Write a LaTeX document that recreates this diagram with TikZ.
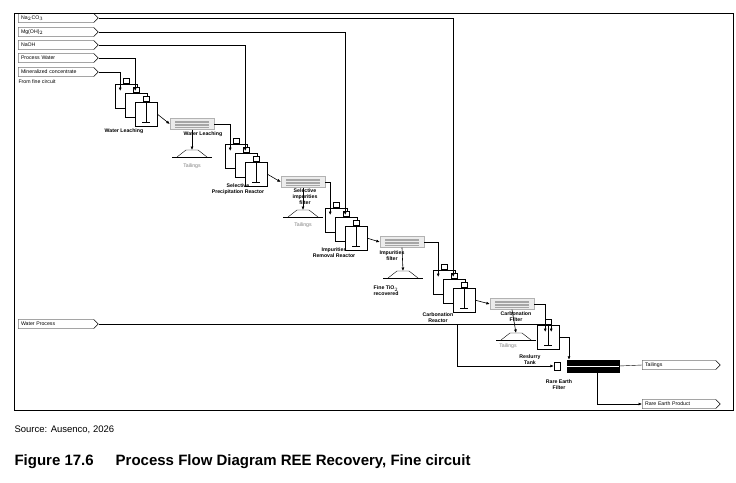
\documentclass[tikz,border=0pt]{standalone}
\usepackage{fontspec}
\setmainfont{Liberation Sans}
\usetikzlibrary{shapes.symbols,arrows.meta}

% three agitated tanks, stepped down to the right
\newcommand{\tanktrain}[3]{%
  \foreach \i/\n in {0/a,1/b,2/c}{
    \node[tank] (#3\n) at ({#1+10*\i},{#2+9*\i}) {};
    \draw[fill=white] ([xshift=-3pt,yshift=1pt]#3\n.north) rectangle ([xshift=3pt,yshift=6pt]#3\n.north);
  }
  \draw ([yshift=1pt]#3c.north) -- ([yshift=4pt]#3c.south);
  \draw[line width=1pt] ([xshift=-4pt,yshift=4pt]#3c.south) -- ([xshift=4pt,yshift=4pt]#3c.south);
}
\newcommand{\pile}[2]{%
  \draw (#1-20,#2+4) -- (#1+20,#2+4);
  \draw (#1-15,#2+4) -- (#1-6,#2-3) -- (#1+6,#2-3) -- (#1+15,#2+4);
}

\begin{document}
\begin{tikzpicture}[x=1pt,y=-1pt,
    every node/.style={font=\fontsize{5.2}{6}\selectfont,align=center},
    tag/.style={signal,signal to=east,draw,minimum width=80pt,minimum height=9pt,inner sep=1pt,text width=70pt,align=left},
    outtag/.style={tag,minimum width=78pt,text width=68pt},
    tank/.style={draw,fill=white,minimum width=22pt,minimum height=24pt,inner sep=0pt,anchor=north west},
    filt/.style={draw=gray!60,fill=gray!15,minimum width=44pt,minimum height=11pt,inner sep=0pt,
      path picture={\foreach \k in {-3,-1.5,...,3}{\draw[gray!70,line width=0.3pt]
        ([xshift=5pt,yshift=\k pt]path picture bounding box.west) -- ([xshift=-5pt,yshift=\k pt]path picture bounding box.east);}}},
    lbl/.style={font=\bfseries\fontsize{5.2}{6}\selectfont},
    flow/.style={-{Latex[length=3.5pt,width=3pt]},line width=0.6pt}]
  \useasboundingbox (0,0) rectangle (736,482);
  \draw[line width=1pt] (14,13) rectangle (733,410);

  % feed tags
  \node[tag] (soda) at (56,18) {Na$_2$CO$_3$};
  \node[tag] (mgoh) at (56,32) {Mg(OH)$_2$};
  \node[tag] (naoh) at (56,45) {NaOH};
  \node[tag] (pw)   at (56,58) {Process Water};
  \node[tag] (conc) at (56,72) {Mineralized concentrate};
  \node[anchor=west] at (15,82) {From fine circuit};
  \node[tag] (wp)   at (56,324) {Water Process};
  \coordinate (split) at (457,324);

  % reactor trains
  \tanktrain{115}{84}{wl}
  \tanktrain{225}{144}{sp}
  \tanktrain{325}{208}{ir}
  \tanktrain{433}{270}{cr}
  \node[tank] (rs) at (537,325) {};
  \draw[fill=white] ([xshift=-3pt,yshift=1pt]rs.north) rectangle ([xshift=3pt,yshift=6pt]rs.north);
  \draw ([yshift=1pt]rs.north) -- ([yshift=4pt]rs.south);
  \draw[line width=1pt] ([xshift=-4pt,yshift=4pt]rs.south) -- ([xshift=4pt,yshift=4pt]rs.south);

  % filters
  \node[filt] (f1) at (192,124) {};
  \node[filt] (f2) at (303,182) {};
  \node[filt] (f3) at (402,242) {};
  \node[filt] (f4) at (512,304) {};
  \node[draw,fill=black,minimum width=52pt,minimum height=12pt,inner sep=0pt] (ref) at (593,366) {};
  \draw[white,line width=0.6pt] (ref.west) -- (ref.east);
  \node[draw,fill=white,minimum width=6pt,minimum height=8pt,inner sep=0pt] (pump) at (557,366) {};

  % tailings piles
  \pile{192}{153}
  \pile{303}{213}
  \pile{403}{274}
  \pile{516}{336}
  \node[text=gray] (t1) at (192,166) {Tailings};
  \node[text=gray] (t2) at (303,225) {Tailings};
  \node[lbl] (t3) at (386,291) {Fine TiO$_2$\\recovered};
  \node[text=gray] (t4) at (508,346) {Tailings};

  % labels
  \node[lbl] at (124,131) {Water Leaching};
  \node[lbl] at (203,134) {Water Leaching};
  \node[lbl] at (238,189) {Selective\\Precipitation Reactor};
  \node[lbl] at (305,197) {Selective\\impurities\\filter};
  \node[lbl] at (334,253) {Impurities\\Removal Reactor};
  \node[lbl] at (392,256) {Impurities\\filter};
  \node[lbl] at (438,318) {Carbonation\\Reactor};
  \node[lbl] at (516,317) {Carbonation\\Filter};
  \node[lbl] at (530,360) {Reslurry\\Tank};
  \node[lbl] at (559,385) {Rare Earth\\Filter};

  % output tags
  \node[outtag] (tail) at (679,365) {Tailings};
  \node[outtag] (rep)  at (679,404) {Rare Earth Product};

  % reagent lines
  \draw[flow] (soda.east) -| ([xshift=9pt,yshift=-7pt]cra.north);
  \draw[flow] (mgoh.east) -| ([xshift=9pt,yshift=-7pt]ira.north);
  \draw[flow] (naoh.east) -| ([xshift=9pt,yshift=-7pt]spa.north);
  \draw[flow] (pw.east)   -| ([xshift=9pt,yshift=-7pt]wla.north);
  \draw[flow] (conc.east) -| ([xshift=-6pt,yshift=-7pt]wla.north);
  \draw[flow] (wp.east) -| ([xshift=3pt,yshift=-7pt]rs.north);
  \draw[flow] (split) |- (pump.west);

  % slurry path
  \draw[flow] (wlc.east) -- (f1.west);
  \draw[flow] (f1.east) -| ([xshift=-6pt,yshift=-7pt]spa.north);
  \draw[flow] (spc.east) -- (f2.west);
  \draw[flow] (f2.east) -| ([xshift=-6pt,yshift=-7pt]ira.north);
  \draw[flow] (irc.east) -- (f3.west);
  \draw[flow] (f3.east) -| ([xshift=-6pt,yshift=-7pt]cra.north);
  \draw[flow] (crc.east) -- (f4.west);
  \draw[flow] (f4.east) -| ([xshift=-3pt,yshift=-7pt]rs.north);
  \draw[flow] (rs.east) -| ([xshift=-24pt]ref.north);
  \draw[flow] (f1.south) -- (192,150);
  \draw[flow] (f2.south) -- (303,210);
  \draw[flow] (f3.south) -- (403,271);
  \draw[flow] (f4.south) -- (516,333);
  \draw (ref.east) -- (tail.west);
  \draw[flow] ([xshift=4pt]ref.south) |- (rep.west);

  % caption
  \node[anchor=west,font=\fontsize{9.5}{11}\selectfont] at (11,430) {Source: Ausenco, 2026};
  \node[anchor=west,font=\bfseries\fontsize{15}{18}\selectfont] at (11,462) {Figure 17.6\hspace{22pt}Process Flow Diagram REE Recovery, Fine circuit};
\end{tikzpicture}
\end{document}
